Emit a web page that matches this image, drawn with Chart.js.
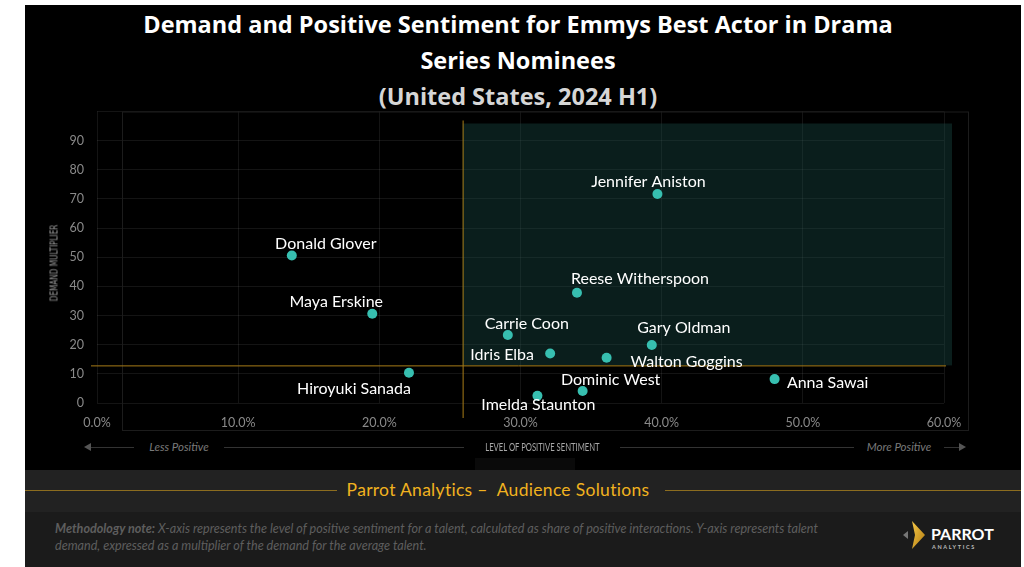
<!DOCTYPE html>
<html>
<head>
<meta charset="utf-8">
<script src="https://cdn.jsdelivr.net/npm/chart.js@4.4.1/dist/chart.umd.min.js"></script>
<style>
  body { margin: 0; width: 1024px; height: 567px; background: #fff; position: relative; overflow: hidden; font-family: Lato, "Open Sans", sans-serif; }
  #panel { position: absolute; left: 25px; top: 5px; width: 996px; height: 562px; background: #000; }
  .title { position: absolute; left: 0; width: 1036px; text-align: center; font-family: "Open Sans", Lato, sans-serif; font-weight: 700; font-size: 23.5px; color: #fff; line-height: 36px; }
  #chartBox { position: absolute; left: 25px; top: 91px; width: 996px; height: 349px; }
  #yTitle { position: absolute; left: 54px; top: 263px; transform: translate(-50%, -50%) rotate(-90deg) scaleX(0.74); font-family: "Liberation Sans Narrow", "DejaVu Sans Condensed", sans-serif; font-size: 11px; color: #9a9a9a; white-space: nowrap; }
  #xRow { position: absolute; left: 84px; top: 440px; width: 882px; height: 14px; }
  #xRow .line { position: absolute; left: 4px; right: 4px; top: 7px; height: 1px; background: #333; }
  #xRow .lbl { position: absolute; top: 0; background: #000; font-size: 11.5px; line-height: 14px; color: #7a7a7a; font-style: italic; white-space: nowrap; text-align: center; }
  #xRow .mid { font-style: normal; color: #a8a8a8; font-size: 12px; display: flex; justify-content: center; }
  #xRow .mid i { display: block; flex: none; font-style: normal; transform: scaleX(0.64); }
  .arrowL { position: absolute; left: 0; top: 3px; width: 0; height: 0; border-top: 4px solid transparent; border-bottom: 4px solid transparent; border-right: 7px solid #555; }
  .arrowR { position: absolute; right: 0; top: 3px; width: 0; height: 0; border-top: 4px solid transparent; border-bottom: 4px solid transparent; border-left: 7px solid #555; }
  #band { position: absolute; left: 25px; top: 470px; width: 996px; height: 42px; background: #222; }
  #band .gl { position: absolute; top: 20px; height: 1px; background: #8c6d1f; }
  #band .txt { position: absolute; left: 0; width: 946px; top: 9px; text-align: center; font-size: 17.5px; color: #f1b21f; font-family: Lato, sans-serif; letter-spacing: 0.3px; }
  #note { position: absolute; left: 25px; top: 512px; width: 996px; height: 55px; background: #1b1b1b; }
  #note p { position: absolute; left: 30px; top: 8px; margin: 0; font-size: 12.6px; line-height: 17px; color: #5e5e5e; font-style: italic; width: 820px; white-space: nowrap; }
  #logo { position: absolute; left: 903px; top: 519px; }
  #under { position: absolute; left: 475px; top: 458px; width: 100px; height: 12px; background: #0a0a0a; }
</style>
</head>
<body>
<div id="panel"></div>
<div class="title" style="top:6px">Demand and Positive Sentiment for Emmys Best Actor in Drama</div>
<div class="title" style="top:42px">Series Nominees</div>
<div class="title" style="top:78px; color:#d6d6d6">(United States, 2024 H1)</div>

<div id="chartBox"><canvas id="chart"></canvas></div>
<div id="yTitle">DEMAND MULTIPLIER</div>

<div id="xRow">
  <div class="line"></div>
  <div class="arrowL"></div>
  <div class="arrowR"></div>
  <div class="lbl" style="left:50px; width:90px">Less Positive</div>
  <div class="lbl mid" style="left:380px; width:156px"><i>LEVEL OF POSITIVE SENTIMENT</i></div>
  <div class="lbl" style="left:770px; width:90px">More Positive</div>
</div>
<div id="under"></div>

<div id="band">
  <div class="gl" style="left:0; width:312px"></div>
  <div class="gl" style="left:640px; right:0"></div>
  <div class="txt">Parrot Analytics –&nbsp; Audience Solutions</div>
</div>

<div id="note">
  <p><b>Methodology note:</b> X-axis represents the level of positive sentiment for a talent, calculated as share of positive interactions. Y-axis represents talent<br>demand, expressed as a multiplier of the demand for the average talent.</p>
</div>

<svg id="logo" width="95" height="32" viewBox="0 0 95 32">
  <defs>
    <linearGradient id="g" x1="0" y1="0" x2="1" y2="1">
      <stop offset="0" stop-color="#f7c948"/>
      <stop offset="1" stop-color="#b07a10"/>
    </linearGradient>
  </defs>
  <polygon points="0,16 5,12 5,20" fill="#777"/>
  <polygon points="9,2 22,16 9,30 12,16" fill="url(#g)"/>
  <text x="28" y="21" font-family="Lato, sans-serif" font-size="16" font-weight="700" fill="#fff">PARROT</text>
  <text x="29" y="30" font-family="Lato, sans-serif" font-size="5.5" font-weight="700" fill="#bbb" letter-spacing="1.6">ANALYTICS</text>
</svg>

<script>
// talents and their scores
const talents = ['Jennifer Aniston', 'Donald Glover', 'Reese Witherspoon', 'Maya Erskine', 'Carrie Coon',
  'Gary Oldman', 'Idris Elba', 'Walton Goggins', 'Hiroyuki Sanada', 'Anna Sawai', 'Dominic West', 'Imelda Staunton'];
const sentiment = [39.7, 13.8, 34.0, 19.5, 29.1, 39.3, 32.1, 36.1, 22.1, 48.0, 34.4, 31.2];
const demand = [71.7, 50.6, 37.8, 30.6, 23.3, 19.9, 17.0, 15.5, 10.4, 8.2, 4.1, 2.5];
// average lines
const avgSentiment = 25.9;
const avgDemand = 12.9;
const xTicks = [0, 10, 20, 30, 40, 50, 60];

// label offset from the dot (px), same order as talents
const labelOffsets = [[-9, -12], [34, -12], [63, -14], [-36, -12], [19, -11], [32, -17],
  [-48, 1], [80, 4], [-55, 16], [53, 4], [28, -11], [1, 9]];

const points = talents.map((t, i) => ({ x: sentiment[i], y: demand[i] }));

const quadrantPlugin = {
  id: 'quadrant',
  beforeDatasetsDraw(chart) {
    const ctx = chart.ctx;
    const a = chart.chartArea;
    const xs = chart.scales.x, ys = chart.scales.y;
    const vx = xs.getPixelForValue(avgSentiment);
    const hy = ys.getPixelForValue(avgDemand);
    ctx.save();
    // outer frame
    ctx.strokeStyle = '#1c1c1c';
    ctx.lineWidth = 1;
    ctx.strokeRect(a.left + 25.5, a.top + 0.5, a.right - a.left - 1, a.bottom - a.top + 27);
    // shaded quadrant
    ctx.fillStyle = 'rgba(25, 78, 74, 0.38)';
    ctx.fillRect(vx, a.top + 12, a.right + 8 - vx, hy - a.top - 12);
    // average lines
    ctx.strokeStyle = '#a87c17';
    ctx.beginPath();
    ctx.moveTo(vx + 0.5, a.top + 9);
    ctx.lineTo(vx + 0.5, a.bottom + 15);
    ctx.moveTo(a.left - 6, hy + 0.5);
    ctx.lineTo(a.right + 2, hy + 0.5);
    ctx.stroke();
    ctx.restore();
  },
  afterDatasetsDraw(chart) {
    const ctx = chart.ctx;
    const meta = chart.getDatasetMeta(0);
    ctx.save();
    ctx.font = '16px Lato, "Open Sans", sans-serif';
    ctx.fillStyle = '#fff';
    ctx.textAlign = 'center';
    ctx.textBaseline = 'middle';
    meta.data.forEach((pt, i) => {
      ctx.fillText(talents[i], pt.x + labelOffsets[i][0], pt.y + labelOffsets[i][1]);
    });
    ctx.restore();
  }
};

new Chart(document.getElementById('chart'), {
  type: 'scatter',
  data: {
    datasets: [{
      data: points,
      backgroundColor: '#37bfb0',
      borderWidth: 0,
      pointRadius: 5,
      pointHoverRadius: 5
    }]
  },
  options: {
    responsive: true,
    maintainAspectRatio: false,
    animation: false,
    layout: { padding: { left: 25, right: 77, top: 10, bottom: 7 } },
    plugins: { legend: { display: false }, tooltip: { enabled: false } },
    scales: {
      x: {
        type: 'linear',
        min: 0,
        max: 60,
        afterFit(scale) { scale.height = 30; },
        afterBuildTicks(scale) { scale.ticks = xTicks.map(v => ({ value: v })); },
        ticks: {
          color: '#8a8a8a',
          font: { family: 'Lato, sans-serif', size: 12.5 },
          padding: 12,
          callback: v => v.toFixed(1) + '%'
        },
        grid: { color: 'rgba(255,255,255,0.08)', drawTicks: false },
        border: { display: false }
      },
      y: {
        min: 0,
        max: 100,
        afterFit(scale) { scale.width = 47; },
        ticks: {
          stepSize: 10,
          color: '#8a8a8a',
          font: { family: 'Lato, sans-serif', size: 12.5 },
          padding: 13,
          callback: v => (v === 100 ? '' : v)
        },
        grid: { color: 'rgba(255,255,255,0.08)', drawTicks: false },
        border: { display: false }
      }
    }
  },
  plugins: [quadrantPlugin]
});
</script>
</body>
</html>
